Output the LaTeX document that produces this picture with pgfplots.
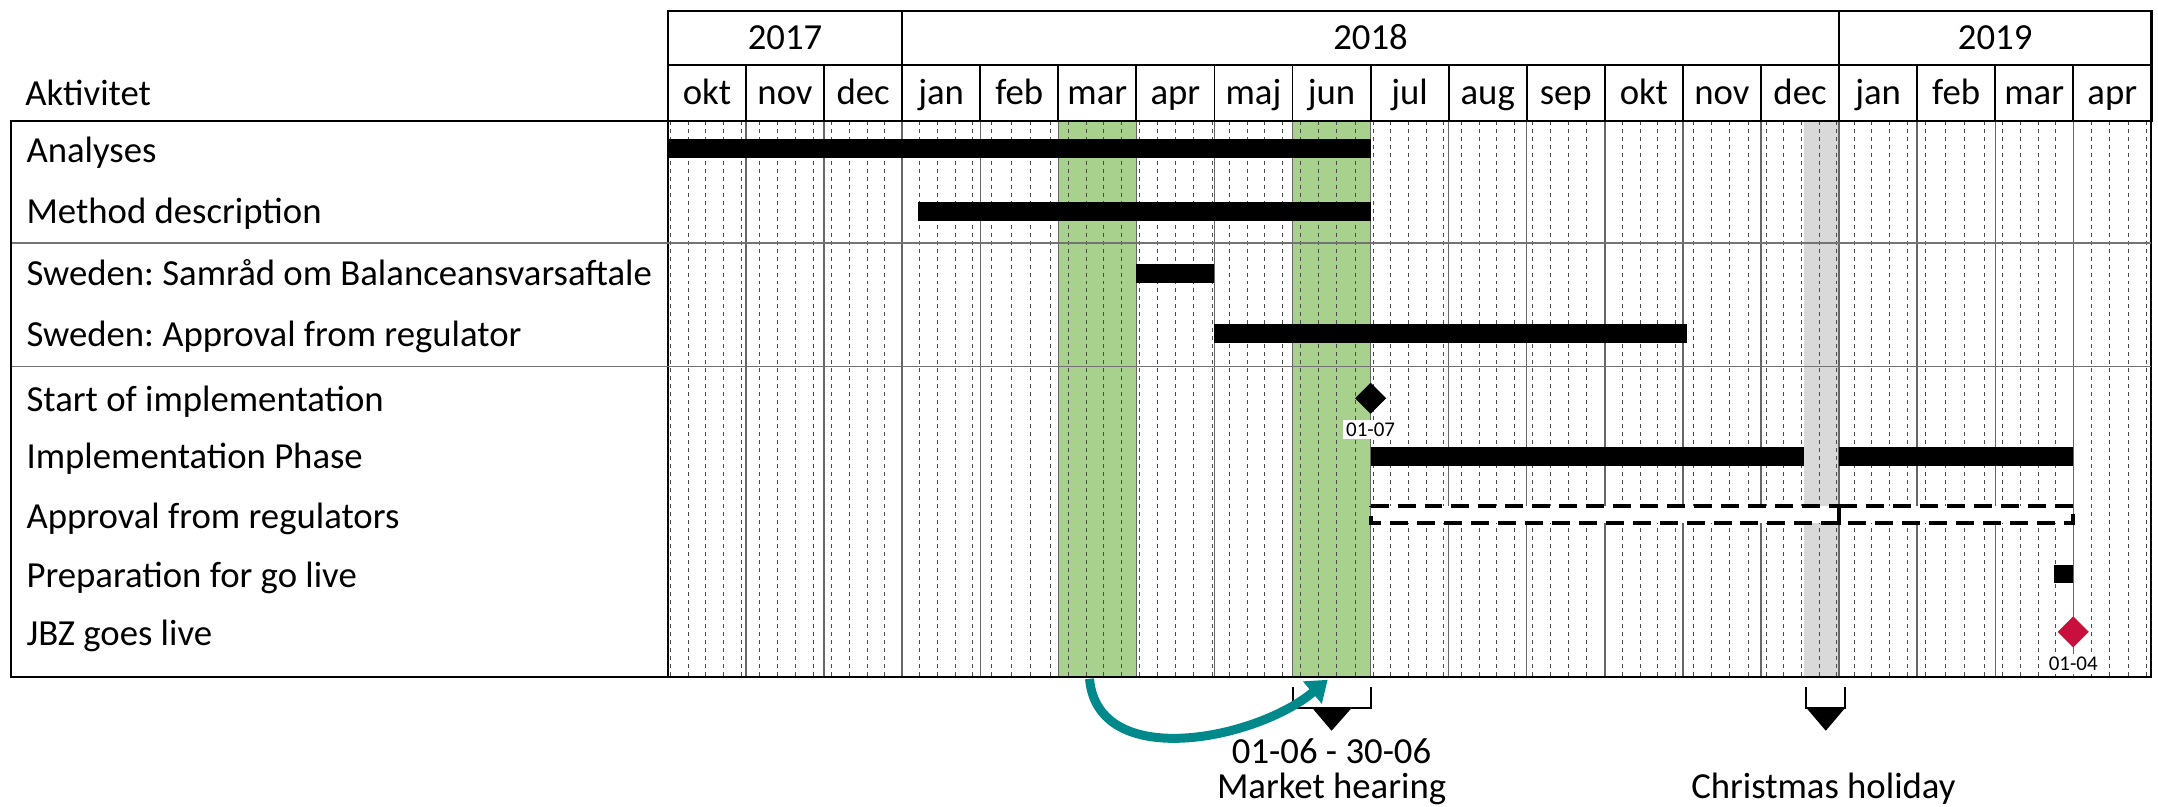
\documentclass[border=0pt]{standalone}
\usepackage{pgfplots}
\pgfplotsset{compat=1.18}
\usepackage{fontspec}
\setmainfont{Carlito}
\frenchspacing
\usetikzlibrary{arrows.meta}
\definecolor{hgreen}{HTML}{A9D18E}
\definecolor{hgray}{HTML}{D9D9D9}
\definecolor{mred}{HTML}{C8103E}
\definecolor{arrteal}{HTML}{00898A}
\newcommand\mainsize{\fontsize{18.4}{21}\selectfont}
\newcommand\smallsize{\fontsize{10.5}{12}\selectfont}
\newcommand\mon[2]{\node[anchor=base,font=\mainsize,inner sep=0pt] at (axis cs:#1,105) {#2};}
\newcommand\rowlab[2]{\node[anchor=base west,font=\mainsize,inner sep=0pt] at (axis cs:-8.22,#1) {#2};}
\begin{document}
\begin{tikzpicture}
\begin{axis}[
  set layers,
  scale only axis,
  width=743pt, height=278.5pt,
  xmin=0, xmax=19, ymin=121, ymax=678, y dir=reverse,
  clip=false,
  axis line style={line width=1pt, black},
  xtick={0,...,19}, xticklabels={}, ytick=\empty,
  minor xtick={0.032,0.258,0.484,0.710,0.935,
    1.167,1.4,1.633,1.867,
    2.097,2.323,2.548,2.774,
    3.226,3.452,3.677,3.903,
    4.143,4.393,4.643,4.893,
    5.129,5.355,5.581,5.806,
    6.033,6.267,6.5,6.733,6.967,
    7.194,7.419,7.645,7.871,
    8.1,8.333,8.567,8.8,
    9.032,9.258,9.484,9.710,9.935,
    10.161,10.387,10.613,10.839,
    11.067,11.3,11.533,11.767,
    12.226,12.452,12.677,12.903,
    13.133,13.367,13.6,13.833,
    14.065,14.29,14.516,14.742,14.968,
    15.194,15.419,15.645,15.871,
    16.107,16.357,16.607,16.857,
    17.097,17.323,17.548,17.774,
    18.233,18.467,18.7,18.933},
  xmajorgrids, xminorgrids,
  major grid style={draw=black!60, line width=0.7pt},
  minor grid style={draw=black!70, line width=0.35pt, dash pattern=on 2pt off 2pt},
  major tick length=0pt, minor tick length=0pt,
]
% highlighted columns
\addplot[fill=hgreen, draw=none, on layer=axis background] coordinates {(5,121) (6,121) (6,678) (5,678)} -- cycle;
\addplot[fill=hgreen, draw=none, on layer=axis background] coordinates {(8,121) (9,121) (9,678) (8,678)} -- cycle;
\addplot[fill=hgray, draw=none, on layer=axis background] coordinates {(14.55,121) (15,121) (15,678) (14.55,678)} -- cycle;

% separators
\draw[black!55, line width=0.7pt] (axis cs:-8.414,243.5) -- (axis cs:19,243.5);
\draw[black!55, line width=0.7pt] (axis cs:-8.414,367) -- (axis cs:19,367);

% bars
\addplot[black, line width=9.5pt] coordinates {(0,148.5) (9,148.5)};
\addplot[black, line width=9.5pt] coordinates {(3.2,212) (9,212)};
\addplot[black, line width=9.5pt] coordinates {(6,274) (7,274)};
\addplot[black, line width=9.5pt] coordinates {(7,334) (13.05,334)};
\addplot[black, line width=9.5pt] coordinates {(9,457) (14.55,457)};
\addplot[black, line width=9.5pt] coordinates {(15,457) (18,457)};
\addplot[draw=black, fill=white, line width=2pt, dash pattern=on 9pt off 4.5pt] coordinates {(9,507) (15,507) (15,524) (9,524)} -- cycle;
\addplot[draw=black, fill=white, line width=2pt, dash pattern=on 9pt off 4.5pt] coordinates {(15,507) (18,507) (18,524) (15,524)} -- cycle;
\addplot[black, line width=9.5pt] coordinates {(17.75,575) (18,575)};
% milestones
\addplot[only marks, mark=square*, mark size=5.3pt, mark options={rotate=45, fill=black, draw=black}] coordinates {(9,399)};
\addplot[only marks, mark=square*, mark size=5.3pt, mark options={rotate=45, fill=mred, draw=mred}] coordinates {(18,633)};
\node[anchor=base, fill=white, inner sep=1.5pt, font=\smallsize] at (axis cs:9,437) {01-07};
\node[anchor=base, fill=white, inner sep=1.5pt, font=\smallsize] at (axis cs:18,672) {01-04};

% left label column box
\draw[line width=1pt] (axis cs:0,121) -- (axis cs:-8.414,121) -- (axis cs:-8.414,678) -- (axis cs:0,678);
\node[anchor=base west, font=\mainsize, inner sep=0pt] at (axis cs:-8.235,106) {Aktivitet};
\rowlab{162.5}{Analyses}
\rowlab{224}{Method description}
\rowlab{286.5}{Sweden: Samråd om Balanceansvarsaftale}
\rowlab{347}{Sweden: Approval from regulator}
\rowlab{412}{Start of implementation}
\rowlab{469}{Implementation Phase}
\rowlab{529.5}{Approval from regulators}
\rowlab{589}{Preparation for go live}
\rowlab{647}{JBZ goes live}

% header
\draw[line width=1.2pt] (axis cs:0,11) rectangle (axis cs:19,121);
\draw[line width=1.2pt] (axis cs:0,65) -- (axis cs:19,65);
\draw[line width=1.2pt] (axis cs:3,11) -- (axis cs:3,65);
\draw[line width=1.2pt] (axis cs:15,11) -- (axis cs:15,65);
\draw[line width=0.9pt] (axis cs:1,65) -- (axis cs:1,121) (axis cs:2,65) -- (axis cs:2,121)
  (axis cs:3,65) -- (axis cs:3,121) (axis cs:4,65) -- (axis cs:4,121) (axis cs:5,65) -- (axis cs:5,121)
  (axis cs:6,65) -- (axis cs:6,121) (axis cs:7,65) -- (axis cs:7,121) (axis cs:8,65) -- (axis cs:8,121)
  (axis cs:9,65) -- (axis cs:9,121) (axis cs:10,65) -- (axis cs:10,121) (axis cs:11,65) -- (axis cs:11,121)
  (axis cs:12,65) -- (axis cs:12,121) (axis cs:13,65) -- (axis cs:13,121) (axis cs:14,65) -- (axis cs:14,121)
  (axis cs:15,65) -- (axis cs:15,121) (axis cs:16,65) -- (axis cs:16,121) (axis cs:17,65) -- (axis cs:17,121)
  (axis cs:18,65) -- (axis cs:18,121);
\node[anchor=base, font=\mainsize, inner sep=0pt] at (axis cs:1.5,50) {2017};
\node[anchor=base, font=\mainsize, inner sep=0pt] at (axis cs:9,50) {2018};
\node[anchor=base, font=\mainsize, inner sep=0pt] at (axis cs:17,50) {2019};
\mon{0.5}{okt}\mon{1.5}{nov}\mon{2.5}{dec}\mon{3.5}{jan}\mon{4.5}{feb}\mon{5.5}{mar}
\mon{6.5}{apr}\mon{7.5}{maj}\mon{8.5}{jun}\mon{9.5}{jul}\mon{10.5}{aug}\mon{11.5}{sep}
\mon{12.5}{okt}\mon{13.5}{nov}\mon{14.5}{dec}\mon{15.5}{jan}\mon{16.5}{feb}\mon{17.5}{mar}
\mon{18.5}{apr}

% annotations below
\draw[line width=1pt] (axis cs:8,688) -- (axis cs:8,709) -- (axis cs:9,709) -- (axis cs:9,688);
\fill (axis cs:8.25,709) -- (axis cs:8.76,709) -- (axis cs:8.5,732) -- cycle;
\draw[line width=1pt] (axis cs:14.58,688) -- (axis cs:14.58,709) -- (axis cs:15.08,709) -- (axis cs:15.08,688);
\fill (axis cs:14.58,709) -- (axis cs:15.08,709) -- (axis cs:14.83,732) -- cycle;
\node[anchor=base, font=\mainsize, inner sep=0pt] at (axis cs:8.5,765) {01-06 - 30-06};
\node[anchor=base, font=\mainsize, inner sep=0pt] at (axis cs:8.5,800) {Market hearing};
\node[anchor=base, font=\mainsize, inner sep=0pt] at (axis cs:14.8,800) {Christmas holiday};
\draw[arrteal, line width=4.5pt, -{Triangle[length=10pt,width=14pt]}] (axis cs:5.4,680) to[out=-85,in=-140] (axis cs:8.45,681);

\path (axis cs:-8.555,0) rectangle (axis cs:19.04,808);
\end{axis}
\end{tikzpicture}
\end{document}
